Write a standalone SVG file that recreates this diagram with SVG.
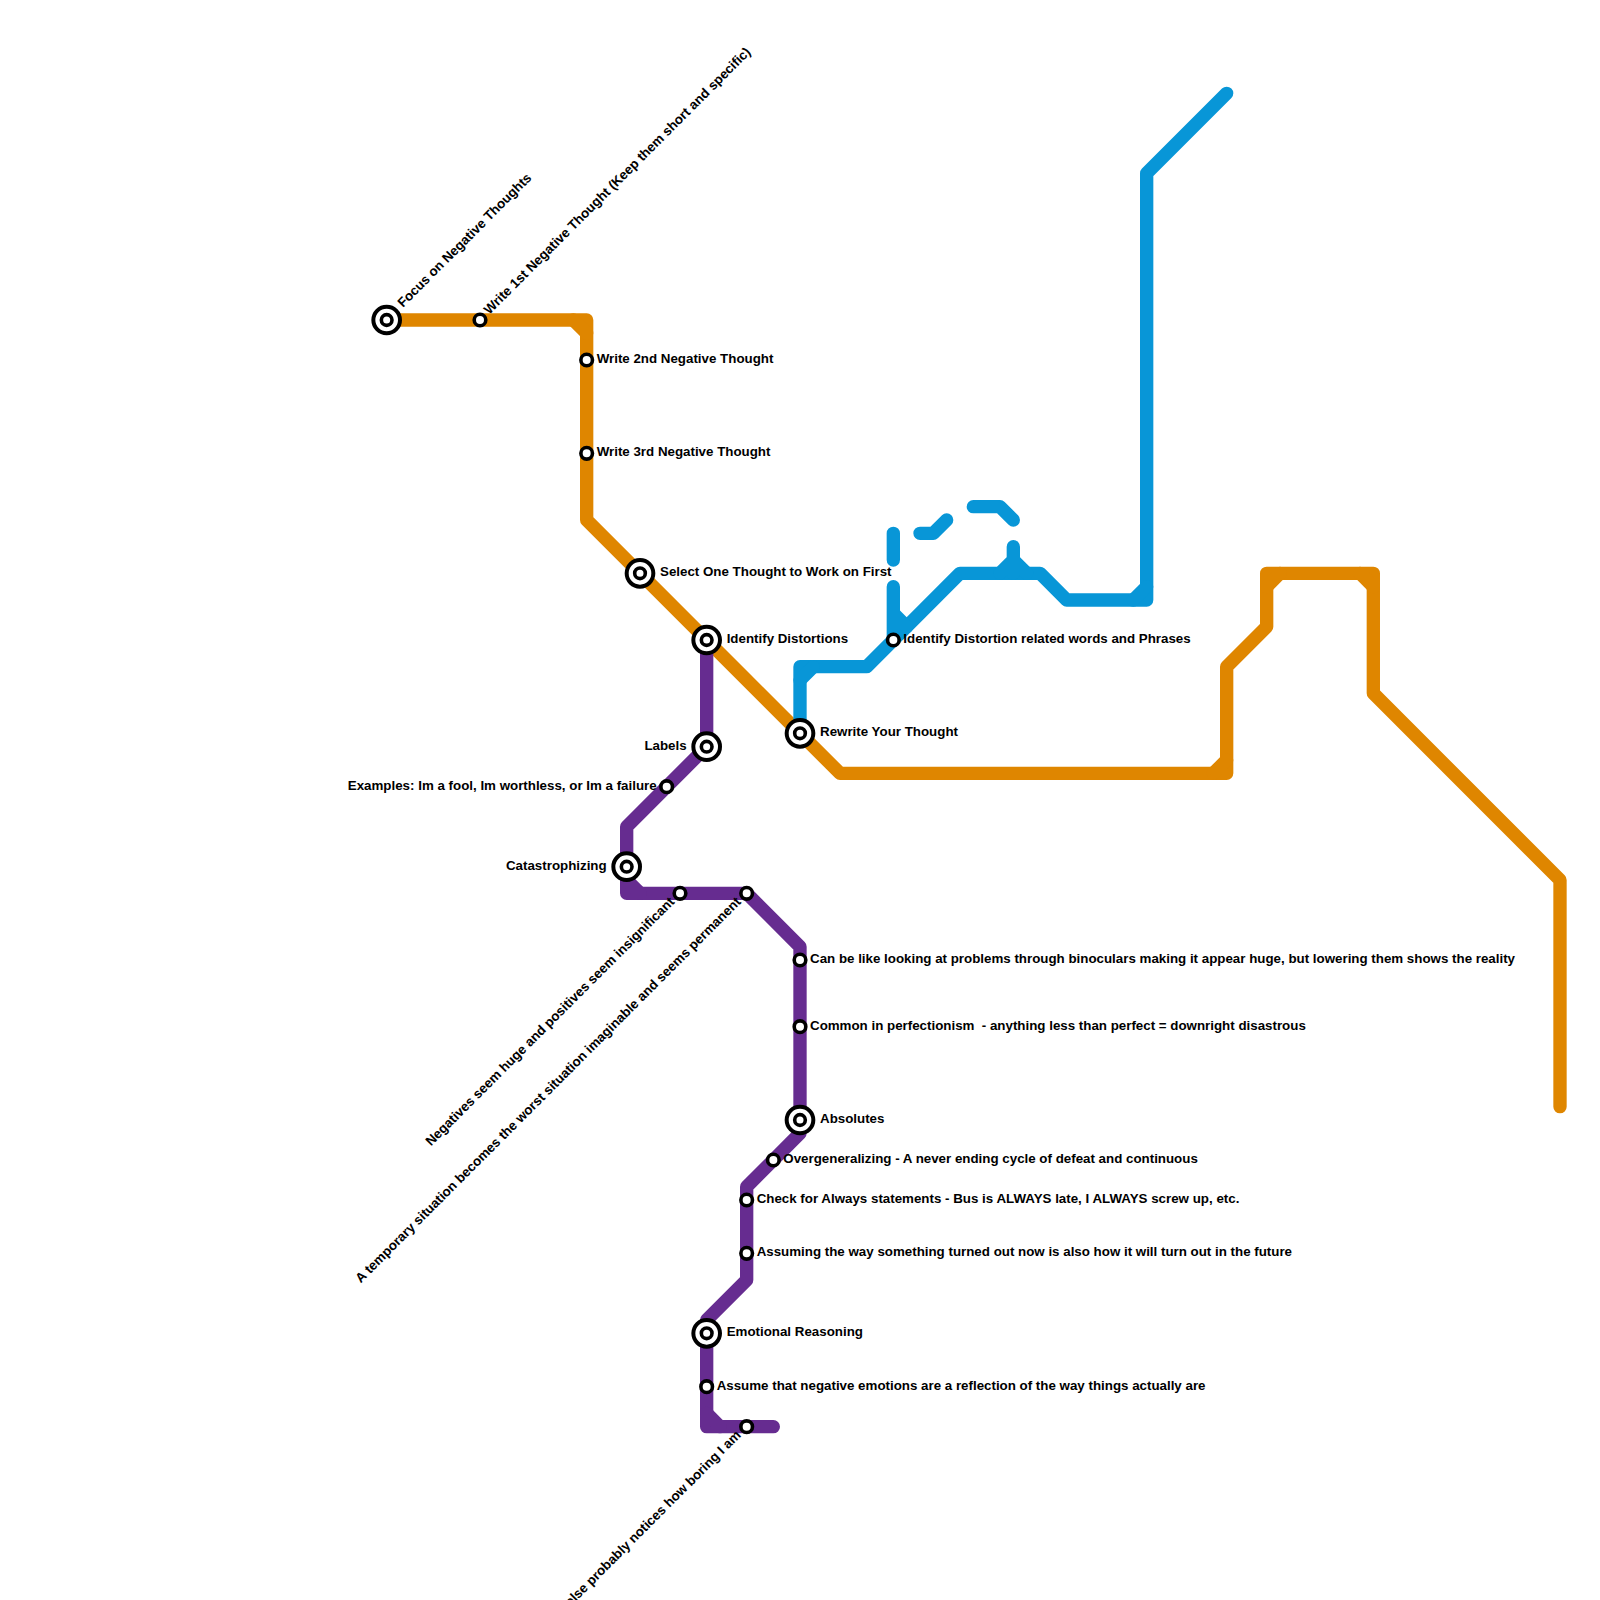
<svg xmlns="http://www.w3.org/2000/svg" width="1600" height="1600" viewBox="0 0 1600 1600">
<style>
.l{fill:none;stroke-width:13.33;stroke-linecap:round;stroke-linejoin:round}
.o{stroke:#df8600}.b{stroke:#0896d7}.p{stroke:#662c90}
.s{fill:#fff;stroke:#000;stroke-width:3.6}
.i{fill:#fff;stroke:#000;stroke-width:4}
.j{fill:#fff;stroke:#000;stroke-width:3.6}
text{font-family:"Liberation Sans",Arial,sans-serif;font-weight:700;font-size:13.33px;fill:#000;white-space:pre}
.e{text-anchor:end}
</style>
<defs>
<g id="ic"><circle class="i" r="13.33"/><circle class="j" r="5.33"/></g>
<circle id="sm" class="s" r="5.8"/>
</defs>
<rect width="1600" height="1600" fill="#fff"/>
<g id="connectors">
<path class="l o" d="M386.67 320H586.67V520L840 773.33H1226.67V666.67L1266.67 626.67V573.33H1373.33V693.33L1560 880V1106.67"/>
<path class="l o" d="M573.33 320L586.67 333.33M1213.33 773.33L1226.67 760M1266.67 586.67L1280 573.33M1360 573.33L1373.33 586.67"/>
<path class="l b" d="M800 733.33V666.67H866.67L960 573.33H1040L1066.67 600H1146.67V173.33L1226.67 93.33"/>
<path class="l b" d="M800 680L813.33 666.67M1133.33 600L1146.67 586.67M893.33 586.67V640M893.33 613.33L906.67 626.67M893.33 533.33V560M920 533.33H933.33L946.67 520M973.33 506.67H1000L1013.33 520M1013.33 546.67V573.33M1000 573.33L1013.33 560L1026.67 573.33"/>
<path class="l p" d="M706.67 640V746.67L626.67 826.67V893.33H746.67L800 946.67V1133.33L746.67 1186.67V1280L706.67 1320V1426.67H773.33"/>
<path class="l p" d="M626.67 880L640 893.33M706.67 1413.33L720 1426.67"/>
</g>
<g id="n1"><use href="#ic" x="386.67" y="320"/><text transform="translate(386.67 320) rotate(-45)" x="20" y="3">Focus on Negative Thoughts</text></g>
<g id="n2"><use href="#sm" x="480" y="320"/><text transform="translate(480 320) rotate(-45)" x="10" y="3">Write 1st Negative Thought (Keep them short and specific)</text></g>
<g id="n3"><use href="#sm" x="586.67" y="360"/><text x="596.67" y="363">Write 2nd Negative Thought</text></g>
<g id="n4"><use href="#sm" x="586.67" y="453.33"/><text x="596.67" y="456.33">Write 3rd Negative Thought</text></g>
<g id="n5"><use href="#ic" x="640" y="573.33"/><text x="660" y="576.33">Select One Thought to Work on First</text></g>
<g id="n6"><use href="#ic" x="706.67" y="640"/><text x="726.67" y="643">Identify Distortions</text></g>
<g id="n7"><use href="#sm" x="893.33" y="640"/><text x="903.33" y="643">Identify Distortion related words and Phrases</text></g>
<g id="n8"><use href="#ic" x="800" y="733.33"/><text x="820" y="736.33">Rewrite Your Thought</text></g>
<g id="n9"><use href="#ic" x="706.67" y="746.67"/><text class="e" x="686.67" y="749.67">Labels</text></g>
<g id="n10"><use href="#sm" x="666.67" y="786.67"/><text class="e" x="656.67" y="789.67">Examples: Im a fool, Im worthless, or Im a failure</text></g>
<g id="n11"><use href="#ic" x="626.67" y="866.67"/><text class="e" x="606.67" y="869.67">Catastrophizing</text></g>
<g id="n12"><use href="#sm" x="680" y="893.33"/><text class="e" transform="translate(680 893.33) rotate(-45)" x="-10" y="3">Negatives seem huge and positives seem insignificant</text></g>
<g id="n13"><use href="#sm" x="746.67" y="893.33"/><text class="e" transform="translate(746.67 893.33) rotate(-45)" x="-10" y="3">A temporary situation becomes the worst situation imaginable and seems permanent</text></g>
<g id="n14"><use href="#sm" x="800" y="960"/><text x="810" y="963">Can be like looking at problems through binoculars making it appear huge, but lowering them shows the reality</text></g>
<g id="n15"><use href="#sm" x="800" y="1026.67"/><text x="810" y="1029.67">Common in perfectionism  - anything less than perfect = downright disastrous</text></g>
<g id="n16"><use href="#ic" x="800" y="1120"/><text x="820" y="1123">Absolutes</text></g>
<g id="n17"><use href="#sm" x="773.33" y="1160"/><text x="783.33" y="1163">Overgeneralizing - A never ending cycle of defeat and continuous</text></g>
<g id="n18"><use href="#sm" x="746.67" y="1200"/><text x="756.67" y="1203">Check for Always statements - Bus is ALWAYS late, I ALWAYS screw up, etc.</text></g>
<g id="n19"><use href="#sm" x="746.67" y="1253.33"/><text x="756.67" y="1256.33">Assuming the way something turned out now is also how it will turn out in the future</text></g>
<g id="n20"><use href="#ic" x="706.67" y="1333.33"/><text x="726.67" y="1336.33">Emotional Reasoning</text></g>
<g id="n21"><use href="#sm" x="706.67" y="1386.67"/><text x="716.67" y="1389.67">Assume that negative emotions are a reflection of the way things actually are</text></g>
<g id="n22"><use href="#sm" x="746.67" y="1426.67"/><text class="e" transform="translate(746.67 1426.67) rotate(-45)" x="-10" y="3">else probably notices how boring I am</text></g>
</svg>
